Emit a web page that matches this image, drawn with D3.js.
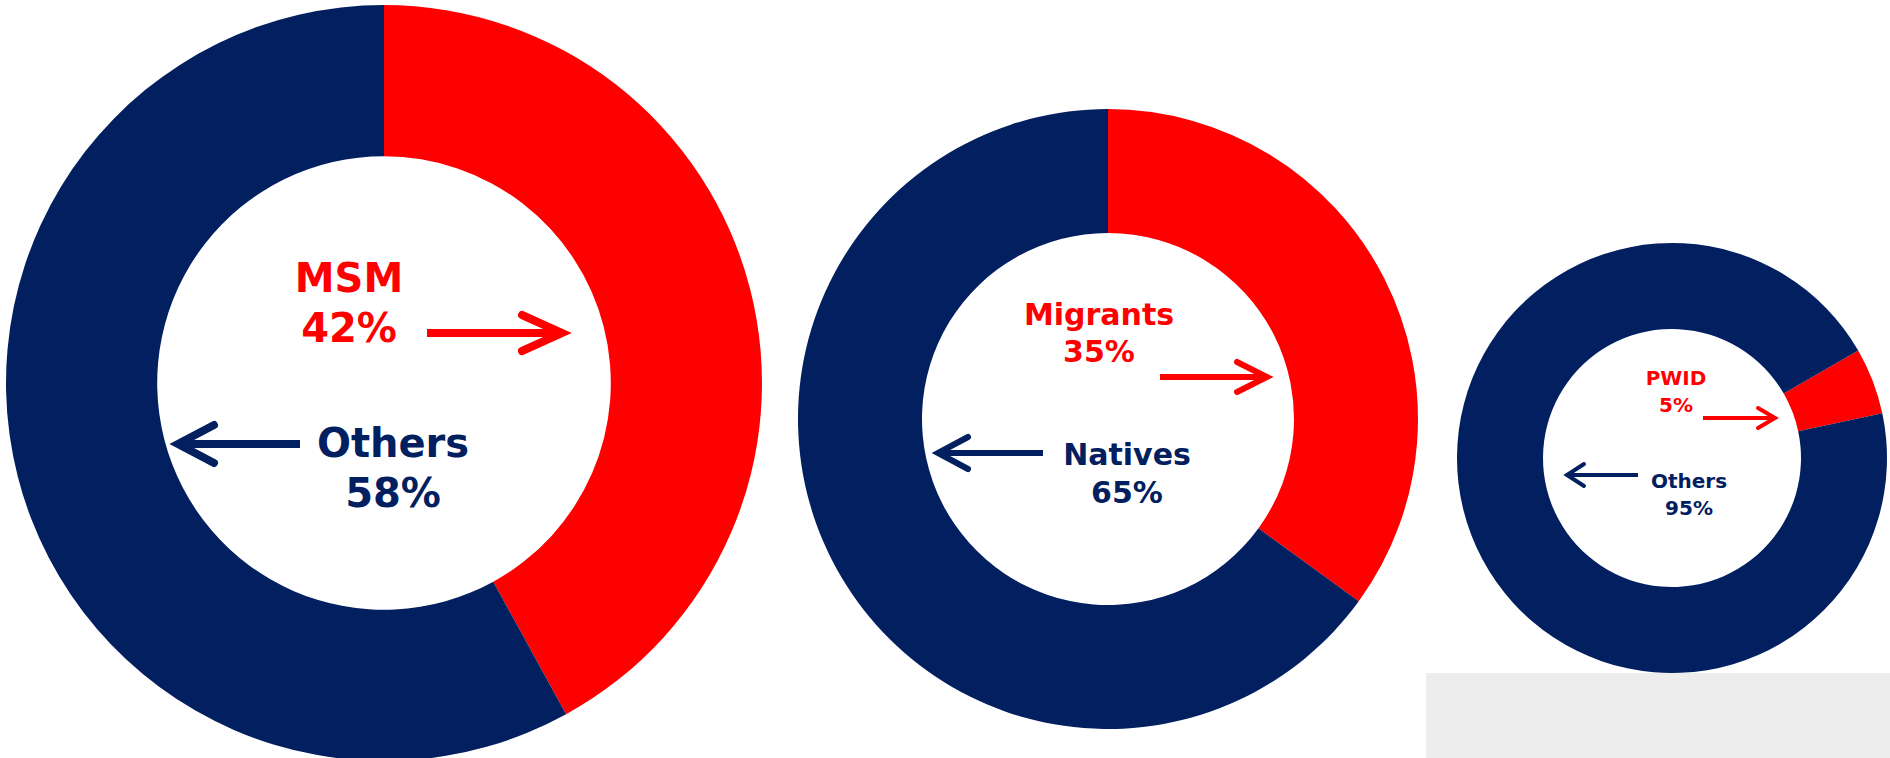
<!DOCTYPE html>
<html>
<head>
<meta charset="utf-8">
<script src="https://cdn.jsdelivr.net/npm/d3@7"></script>
<style>
  html, body { margin: 0; padding: 0; background: #fff; }
  svg { display: block; }
  text { font-family: 'DejaVu Sans', Verdana, sans-serif; font-weight: bold; }
</style>
</head>
<body>
<svg id="chart" width="1890" height="758"></svg>
<script>
// Data
const groupsMsm = ['MSM', 'Others'];
const valuesMsm = [42, 58];

const groupsOrigin = ['Migrants', 'Natives'];
const valuesOrigin = [35, 65];

const groupsPwid = ['PWID', 'Others'];
const valuesPwid = [5, 95];

const RED = '#ff0000';
const NAVY = '#022060';

// layout of each donut: centre, radii, rotation, label offsets, arrows
const donuts = [
  {
    groups: groupsMsm, values: valuesMsm,
    cx: 384, cy: 383, outer: 378, start: 0, font: 40,
    labels: [[-35, -91, 50], [9, 74, 50]],           // dx, dy of name, gap to % line
    arrows: [
      { from: 43, to: 178, dy: -50, head: 40, half: 18, w: 8 },
      { from: -84, to: -206, dy: 61, head: 36, half: 19, w: 8 }
    ]
  },
  {
    groups: groupsOrigin, values: valuesOrigin,
    cx: 1108, cy: 419, outer: 310, start: 0, font: 30,
    labels: [[-9, -94, 37], [19, 46, 38]],
    arrows: [
      { from: 52, to: 159, dy: -42, head: 30, half: 15, w: 6 },
      { from: -65, to: -170, dy: 34, head: 30, half: 16, w: 6 }
    ]
  },
  {
    groups: groupsPwid, values: valuesPwid,
    cx: 1672, cy: 458, outer: 215, start: 60, font: 20,
    labels: [[4, -73, 27], [17, 30, 27]],
    arrows: [
      { from: 31, to: 103, dy: -40, head: 17, half: 10, w: 4 },
      { from: -34, to: -105, dy: 17, head: 17, half: 11, w: 4 }
    ]
  }
];

const svg = d3.select('#chart');

// light grey patch in the lower right corner
svg.append('rect')
  .attr('x', 1426)
  .attr('y', 673)
  .attr('width', 464)
  .attr('height', 85)
  .attr('fill', '#ededed');

const colorScale = d3.scaleOrdinal()
  .domain([0, 1])
  .range([RED, NAVY]);

donuts.forEach((d) => {
  const startRad = d.start * Math.PI / 180;
  const pie = d3.pie()
    .sort(null)
    .startAngle(startRad)
    .endAngle(startRad + 2 * Math.PI);

  const arc = d3.arc()
    .innerRadius(d.outer * 0.6)
    .outerRadius(d.outer);

  const g = svg.append('g')
    .attr('transform', `translate(${d.cx},${d.cy})`);

  g.selectAll('path.slice')
    .data(pie(d.values))
    .enter()
    .append('path')
    .attr('class', 'slice')
    .attr('d', arc)
    .attr('fill', (s, i) => colorScale(i));

  // name + percentage in the hole
  d.groups.forEach((name, i) => {
    const [dx, dy, gap] = d.labels[i];
    const t = g.append('text')
      .attr('text-anchor', 'middle')
      .attr('font-size', d.font)
      .attr('fill', colorScale(i));
    t.append('tspan').attr('x', dx).attr('y', dy).text(name);
    t.append('tspan').attr('x', dx).attr('y', dy + gap).text(`${d.values[i]}%`);
  });

  // arrows pointing to the slices
  d.arrows.forEach((a, i) => {
    const dir = Math.sign(a.to - a.from);
    g.append('path')
      .attr('d', `M${a.from},${a.dy}L${a.to - dir * a.w * 0.6},${a.dy}`)
      .attr('stroke', colorScale(i))
      .attr('stroke-width', a.w)
      .attr('fill', 'none');
    g.append('path')
      .attr('d', `M${a.to - dir * a.head},${a.dy - a.half}L${a.to},${a.dy}L${a.to - dir * a.head},${a.dy + a.half}`)
      .attr('stroke', colorScale(i))
      .attr('stroke-width', a.w)
      .attr('stroke-linecap', 'round')
      .attr('stroke-linejoin', 'miter')
      .attr('fill', 'none');
  });
});
</script>
</body>
</html>
